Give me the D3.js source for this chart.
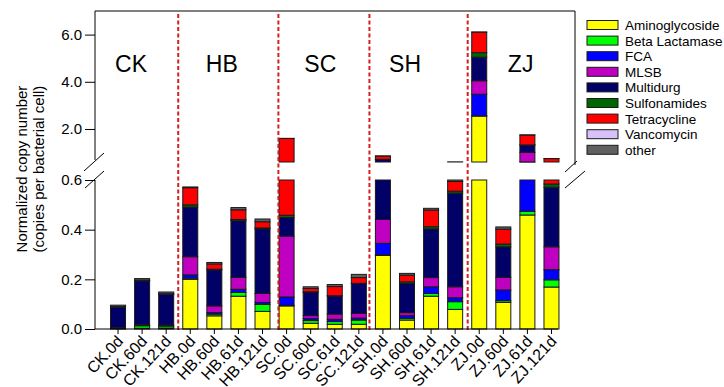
<!DOCTYPE html>
<html lang="en">
<head>
  <meta charset="utf-8">
  <title>Normalized copy number</title>
  <script src="https://d3js.org/d3.v7.min.js"></script>
  <style>
    body { margin: 0; background: #fff; }
    text { font-family: Arial, "Liberation Sans", sans-serif; }
  </style>
</head>
<body>
<script type="text/javascript">

// categories (bars)
var categories = ["CK.0d", "CK.60d", "CK.121d",
  "HB.0d", "HB.60d", "HB.61d", "HB.121d",
  "SC.0d", "SC.60d", "SC.61d", "SC.121d",
  "SH.0d", "SH.60d", "SH.61d", "SH.121d",
  "ZJ.0d", "ZJ.60d", "ZJ.61d", "ZJ.121d"];

var seriesNames = ["Aminoglycoside", "Beta Lactamase", "FCA", "MLSB", "Multidurg",
  "Sulfonamides", "Tetracycline", "Vancomycin", "other"];
var seriesColors = ["#ffff00", "#00ff00", "#0000ff", "#c000c0", "#000066",
  "#006600", "#ff0000", "#d8c0f8", "#606060"];

// series values, one per category
var aminoglycoside = [0.001, 0.003, 0.004, 0.200, 0.053, 0.132, 0.071, 0.093, 0.023, 0.019, 0.019, 0.296, 0.036, 0.132, 0.079, 2.55, 0.107, 0.459, 0.169];
var betaLactamase  = [0.001, 0.010, 0.008, 0.005, 0.007, 0.015, 0.028, 0.002, 0.011, 0.011, 0.017, 0.003, 0.007, 0.011, 0.031, 0.004, 0.007, 0.015, 0.029];
var fca            = [0.000, 0.001, 0.001, 0.013, 0.006, 0.013, 0.008, 0.034, 0.008, 0.009, 0.008, 0.046, 0.011, 0.027, 0.016, 0.92, 0.043, 0.127, 0.041];
var mlsb           = [0.004, 0.004, 0.003, 0.073, 0.027, 0.048, 0.036, 0.245, 0.012, 0.021, 0.019, 0.096, 0.012, 0.037, 0.044, 0.57, 0.051, 0.410, 0.092];
var multidurg      = [0.082, 0.176, 0.123, 0.200, 0.145, 0.228, 0.260, 0.075, 0.093, 0.073, 0.120, 0.270, 0.117, 0.196, 0.377, 1.00, 0.123, 0.310, 0.240];
var sulfonamides   = [0.001, 0.001, 0.001, 0.009, 0.003, 0.005, 0.004, 0.009, 0.003, 0.001, 0.001, 0.002, 0.007, 0.009, 0.008, 0.19, 0.011, 0.003, 0.013];
var tetracycline   = [0.001, 0.002, 0.002, 0.069, 0.021, 0.039, 0.025, 1.140, 0.013, 0.037, 0.023, 0.140, 0.027, 0.067, 0.039, 0.87, 0.060, 0.420, 0.160];
var vancomycin     = [0, 0, 0, 0, 0, 0, 0, 0, 0, 0, 0, 0, 0, 0, 0, 0, 0, 0, 0];
var other          = [0.006, 0.006, 0.007, 0.003, 0.006, 0.009, 0.011, 0.003, 0.007, 0.008, 0.013, 0.002, 0.007, 0.007, 0.012, 0.004, 0.009, 0.003, 0.003];

var seriesValues = [aminoglycoside, betaLactamase, fca, mlsb, multidurg,
  sulfonamides, tetracycline, vancomycin, other];

// tick labels
var lowerTicks = [0, 0.2, 0.4, 0.6];
var upperTicks = [2, 4, 6];

// group names, where they sit (in bar steps) and where the dividers fall
var groupNames = ["CK", "HB", "SC", "SH", "ZJ"];
var groupLabelAt = [0.54, 4.31, 8.4, 11.92, 16.72];
var dividerAt = [2.5, 6.66, 10.44, 14.52];

var svg_width = 724;
var svg_height = 387;

var svg = d3.select("body")
  .append("svg")
  .attr("width", svg_width)
  .attr("height", svg_height);

// build table for d3.stack
var table = categories.map(function(c, i) {
  var row = { cat: c };
  seriesNames.forEach(function(s, k) { row[s] = seriesValues[k][i]; });
  return row;
});
var stacked = d3.stack().keys(seriesNames)(table);

var x = d3.scaleBand()
  .domain(categories)
  .range([103.3, 566.2])
  .paddingInner(0.377)
  .paddingOuter(0.3);

var yLow = d3.scaleLinear().domain([0, 0.6]).range([329, 180]);
var yHigh = d3.scaleLinear().domain([0.6, 7]).range([162, 11]);

var bw = x.bandwidth();
var step = x.step();
var firstCenter = x(categories[0]) + bw / 2;

// bars, drawn once per panel and clipped to that panel's range
function drawPanel(scale) {
  var lo = scale.domain()[0], hi = scale.domain()[1];
  var g = svg.append("g");
  stacked.forEach(function(layer, k) {
    layer.forEach(function(d, i) {
      var a = Math.max(d[0], lo), b = Math.min(d[1], hi);
      if (b <= a) return;
      g.append("rect")
        .attr("x", x(categories[i]))
        .attr("y", scale(b))
        .attr("width", bw)
        .attr("height", Math.max(scale(a) - scale(b), 0.01))
        .attr("fill", seriesColors[k])
        .attr("stroke", "#1a1a1a")
        .attr("stroke-width", 1);
    });
  });
}
drawPanel(yLow);
drawPanel(yHigh);

// dashed dividers
svg.selectAll(".divider")
  .data(dividerAt)
  .enter()
  .append("line")
  .attr("x1", function(d) { return firstCenter + d * step; })
  .attr("x2", function(d) { return firstCenter + d * step; })
  .attr("y1", 14)
  .attr("y2", 332)
  .attr("stroke", "#d42020")
  .attr("stroke-width", 2)
  .attr("stroke-dasharray", "4,2.5");

// group labels
svg.selectAll(".grp")
  .data(groupNames)
  .enter()
  .append("text")
  .text(function(d) { return d; })
  .attr("x", function(d, i) { return firstCenter + groupLabelAt[i] * step; })
  .attr("y", 72)
  .attr("text-anchor", "middle")
  .attr("font-size", "23px")
  .attr("fill", "#000");

// axes
var lowAxis = svg.append("g")
  .attr("transform", "translate(95,0)")
  .call(d3.axisLeft(yLow).tickValues(lowerTicks).tickFormat(d3.format(".1f")).tickSize(10).tickPadding(3));
var highAxis = svg.append("g")
  .attr("transform", "translate(95,0)")
  .call(d3.axisLeft(yHigh).tickValues(upperTicks).tickFormat(d3.format(".1f")).tickSize(10).tickPadding(3));
var xAxis = svg.append("g")
  .attr("transform", "translate(0,329)")
  .call(d3.axisBottom(x).tickSize(5).tickSizeOuter(0));

[lowAxis, highAxis, xAxis].forEach(function(a) {
  a.select(".domain").remove();
  a.selectAll("line").attr("stroke", "#000");
  a.selectAll("text").attr("font-size", "15px").attr("fill", "#000")
    .attr("font-family", "Arial, 'Liberation Sans', sans-serif");
});

xAxis.selectAll("text")
  .attr("font-size", "16px")
  .attr("text-anchor", "end")
  .attr("dy", null)
  .attr("y", null)
  .attr("transform", "translate(6,13) rotate(-47)");

// axis lines and frame
var frame = [
  [95, 11, 95, 160],     // upper left axis
  [95, 180, 95, 329],    // lower left axis
  [95, 329, 558, 329],   // bottom axis
  [95, 11, 575, 11],     // upper top
  [575, 11, 575, 165],   // upper right
  [84, 171, 104, 153],   // break marks
  [85, 188, 104, 171],
  [565, 172, 577, 161],
  [565, 188, 585, 171]
];
svg.selectAll(".frame")
  .data(frame)
  .enter()
  .append("line")
  .attr("x1", function(d) { return d[0]; })
  .attr("y1", function(d) { return d[1]; })
  .attr("x2", function(d) { return d[2]; })
  .attr("y2", function(d) { return d[3]; })
  .attr("stroke", "#000")
  .attr("stroke-width", 1);

// y title
var title = svg.append("text")
  .attr("transform", "translate(0,169) rotate(-90)")
  .attr("text-anchor", "middle")
  .attr("font-size", "15px")
  .attr("fill", "#000");
title.append("tspan").attr("x", 0).attr("y", 27).text("Normalized copy number");
title.append("tspan").attr("x", 0).attr("y", 44).text("(copies per bacterial cell)");

// legend
var legend = svg.selectAll(".legend")
  .data(seriesNames)
  .enter()
  .append("g")
  .attr("transform", function(d, i) { return "translate(587," + (25 + i * 15.6) + ")"; });
legend.append("rect")
  .attr("x", 0)
  .attr("y", -4.5)
  .attr("width", 31)
  .attr("height", 9)
  .attr("fill", function(d, i) { return seriesColors[i]; })
  .attr("stroke", "#1a1a1a")
  .attr("stroke-width", 1);
legend.append("text")
  .text(function(d) { return d; })
  .attr("x", 38)
  .attr("y", 5)
  .attr("font-size", "13.5px")
  .attr("fill", "#000");

</script>
</body>
</html>
